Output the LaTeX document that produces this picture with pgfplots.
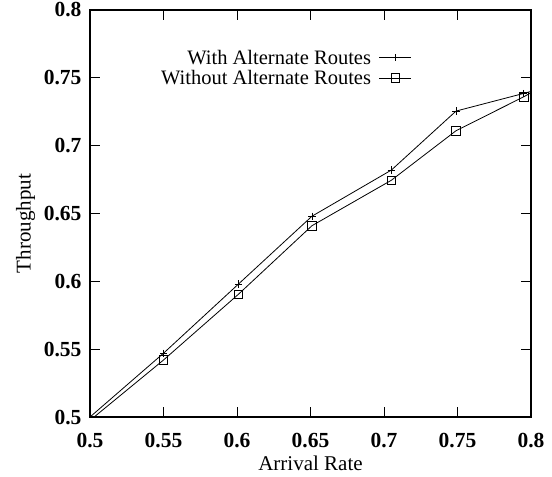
\documentclass[border=0pt]{standalone}
\usepackage{fontspec}
\setmainfont{Liberation Serif}
\usepackage{pgfplots}
\pgfplotsset{compat=1.18}

\begin{document}
\begin{tikzpicture}
\begin{axis}[
  name=ax,
  scale only axis,
  width=441pt, height=407pt,
  xmin=0.5, xmax=0.8, ymin=0.5, ymax=0.8,
  xtick={0.5,0.55,0.6,0.65,0.7,0.75,0.8},
  ytick={0.5,0.55,0.6,0.65,0.7,0.75,0.8},
  xticklabels={0.5,0.55,0.6,0.65,0.7,0.75,0.8},
  yticklabels={0.5,0.55,0.6,0.65,0.7,0.75,0.8},
  tick align=inside,
  major tick length=10pt,
  tick style={black, line width=0.9pt},
  axis line style={line width=1.1pt},
  tick label style={font=\fontsize{21.5}{23}\selectfont\bfseries},
  xticklabel style={anchor=base, yshift=-30pt},
  yticklabel style={xshift=-5pt},
  label style={font=\fontsize{21}{23}\selectfont},
  xlabel={Arrival Rate},
  ylabel={Throughput},
  xlabel style={at={(rel axis cs:0.5,-0.132)}, anchor=base},
  ylabel style={at={(rel axis cs:-0.146,0.475)}, anchor=center},
  legend style={at={(rel axis cs:0.737,0.912)}, anchor=north east,
    draw=none, fill=none, font=\fontsize{20.5}{22}\selectfont,
    row sep=0.5pt,
    /tikz/every odd column/.append style={column sep=6pt}},
  legend cell align=right,
  legend plot pos=right,
  legend image code/.code={%
    \draw[mark repeat=2,mark phase=2] plot coordinates {(0pt,0pt) (16pt,0pt) (32pt,0pt)};},
]
% with alternate routes: line through all samples, marks on the measured ones
\addplot[black, line width=0.8pt, forget plot]
  coordinates {
    (0.5,0.5) (0.55,0.547) (0.601,0.598) (0.651,0.648)
    (0.705,0.682) (0.749,0.7255) (0.795,0.7385) (0.8,0.740)
  };
\addplot[only marks, mark=+, mark size=3.6pt, mark options={black, line width=0.8pt}, forget plot]
  coordinates {
    (0.55,0.547) (0.601,0.598) (0.651,0.648)
    (0.705,0.682) (0.749,0.7255) (0.795,0.7385)
  };
% without alternate routes
\addplot[black, line width=0.8pt, forget plot]
  coordinates {
    (0.5,0.4975) (0.55,0.542) (0.601,0.5905) (0.651,0.641)
    (0.705,0.6745) (0.749,0.711) (0.795,0.736) (0.8,0.739)
  };
\addplot[only marks, mark=square, mark size=4.3pt, mark options={black, line width=0.8pt}, forget plot]
  coordinates {
    (0.55,0.542) (0.601,0.5905) (0.651,0.641)
    (0.705,0.6745) (0.749,0.711) (0.795,0.736)
  };
\addlegendimage{black, line width=0.8pt, mark=+, mark size=3.6pt}
\addlegendentry{With Alternate Routes}
\addlegendimage{black, line width=0.8pt, mark=square, mark size=4.3pt}
\addlegendentry{Without Alternate Routes}
\end{axis}
\pgfresetboundingbox
\path ([shift={(-90pt,-59pt)}]ax.south west) rectangle ([shift={(21pt,10pt)}]ax.north east);
\end{tikzpicture}
\end{document}
